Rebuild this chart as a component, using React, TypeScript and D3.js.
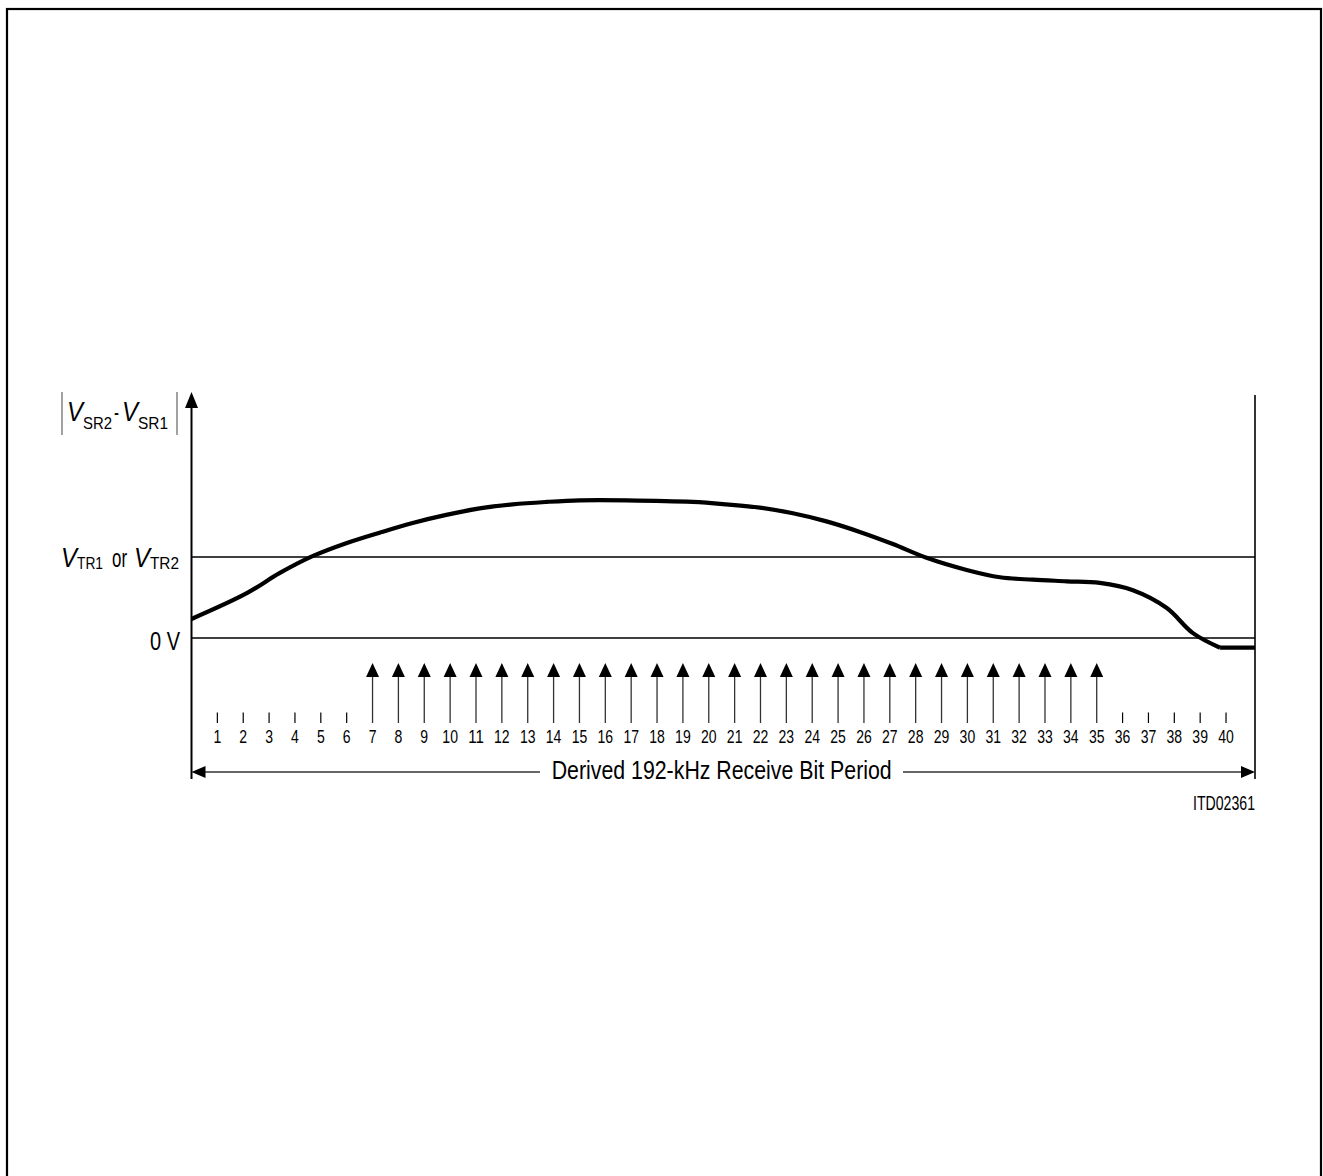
import React from "react";
import * as d3 from "d3";

// ---- data ----
const bitTicks = [1, 2, 3, 4, 5, 6, 7, 8, 9, 10, 11, 12, 13, 14, 15, 16, 17, 18, 19, 20,
  21, 22, 23, 24, 25, 26, 27, 28, 29, 30, 31, 32, 33, 34, 35, 36, 37, 38, 39, 40];
const sampleBits = [7, 8, 9, 10, 11, 12, 13, 14, 15, 16, 17, 18, 19, 20, 21, 22, 23, 24, 25,
  26, 27, 28, 29, 30, 31, 32, 33, 34, 35];
const curveX = [0, 2.12, 3.4, 4.68, 5.98, 7.27, 8.55, 9.85, 11.14, 12.42, 13.72, 15.01, 16.82,
  19.38, 20.68, 21.97, 23.25, 24.55, 25.84, 27.12, 28.42, 29.97, 31.26, 32.53, 33.84, 35.12,
  36.4, 37.71, 38.72, 39.77];
const curveY = [0.235, 0.55, 0.8, 1.01, 1.17, 1.3, 1.42, 1.52, 1.6, 1.65, 1.68, 1.7, 1.7,
  1.68, 1.65, 1.61, 1.54, 1.44, 1.31, 1.16, 0.99, 0.84, 0.75, 0.72, 0.7, 0.68,
  0.59, 0.37, 0.06, -0.12];
// flat tail after the drop
const tailX = [39.77, 41.12];
const tailY = [-0.12, -0.12];
const levelValues = [0, 1]; // 0 V, VTR
const xDomain = [0, 41.12];
const yDomain = [0, 3];

const FONT = "'Liberation Sans', Arial, Helvetica, sans-serif";

export default function App() {
  const x = d3.scaleLinear().domain(xDomain).range([191.5, 1255]);
  const y = d3.scaleLinear().domain(yDomain).range([638, 395]);
  const curveLine = d3
    .line<number>()
    .x((_, i) => x(curveX[i]))
    .y((d) => y(d))
    .curve(d3.curveCatmullRom.alpha(0.5));
  const tailLine = d3
    .line<number>()
    .x((_, i) => x(tailX[i]))
    .y((d) => y(d));

  const x0 = x(xDomain[0]);
  const x1 = x(xDomain[1]);
  const arrowY = 772;

  const T = (p: {
    x: number; y: number; size: number; len?: number; anchor?: string; italic?: boolean;
    children: React.ReactNode;
  }) => (
    <text
      x={p.x}
      y={p.y}
      fontSize={p.size}
      fontFamily={FONT}
      fontStyle={p.italic ? "italic" : "normal"}
      textAnchor={p.anchor || "start"}
      textLength={p.len}
      lengthAdjust={p.len ? "spacingAndGlyphs" : undefined}
      fill="#000"
    >
      {p.children}
    </text>
  );

  return (
    <svg
      width={1323}
      height={1176}
      style={{ position: "absolute", left: 0, top: 0, background: "#fff" }}
    >
      <rect x={7} y={9} width={1314} height={1300} fill="none" stroke="#000" strokeWidth={2.2} />

      {/* threshold lines */}
      {levelValues.map((v) => (
        <line key={v} x1={x0} x2={x1} y1={y(v)} y2={y(v)} stroke="#000" strokeWidth={1.3} />
      ))}

      {/* y axis */}
      <line x1={x0} x2={x0} y1={y(yDomain[1]) + 10} y2={779} stroke="#000" strokeWidth={2} />
      <path
        d={`M${x0},${y(yDomain[1]) - 3} L${x0 - 6.5},${y(yDomain[1]) + 13} L${x0 + 6.5},${y(yDomain[1]) + 13} Z`}
        fill="#000"
      />
      {/* right boundary */}
      <line x1={x1} x2={x1} y1={y(yDomain[1])} y2={779} stroke="#000" strokeWidth={1.6} />

      {/* curve */}
      <path d={curveLine(curveY) || ""} fill="none" stroke="#000" strokeWidth={4.2} strokeLinejoin="round" />
      <path d={tailLine(tailY) || ""} fill="none" stroke="#000" strokeWidth={4.2} />

      {/* ticks and sample arrows */}
      {bitTicks.map((b) => {
        const isSample = sampleBits.includes(b);
        const cx = x(b);
        return (
          <g key={b}>
            {isSample ? (
              <g>
                <line x1={cx} x2={cx} y1={676} y2={723} stroke="#333" strokeWidth={1.3} />
                <path d={`M${cx},663 L${cx - 6.5},677 L${cx + 6.5},677 Z`} fill="#000" />
              </g>
            ) : (
              <line x1={cx} x2={cx} y1={712.5} y2={723} stroke="#000" strokeWidth={1.2} />
            )}
            <T x={cx} y={742.5} size={18.5} anchor="middle" len={String(b).length * 7.8}>
              {b}
            </T>
          </g>
        );
      })}

      {/* bottom double arrow */}
      <line x1={x0 + 10} x2={x1 - 10} y1={arrowY} y2={arrowY} stroke="#333" strokeWidth={1.3} />
      <path d={`M${x0},${arrowY} L${x0 + 14},${arrowY - 6} L${x0 + 14},${arrowY + 6} Z`} fill="#000" />
      <path d={`M${x1},${arrowY} L${x1 - 14},${arrowY - 6} L${x1 - 14},${arrowY + 6} Z`} fill="#000" />
      <rect x={540} y={755} width={363} height={30} fill="#fff" />
      <T x={721.7} y={778.5} size={25} anchor="middle" len={340}>
        Derived 192-kHz Receive Bit Period
      </T>

      <T x={1255} y={809.5} size={19.5} anchor="end" len={62}>ITD02361</T>

      {/* y label |V_SR2 - V_SR1| */}
      <line x1={62} x2={62} y1={392} y2={435} stroke="#555" strokeWidth={1.1} />
      <line x1={177} x2={177} y1={392} y2={435} stroke="#555" strokeWidth={1.1} />
      <T x={67} y={420.5} size={28} italic len={16}>V</T>
      <T x={83} y={428.5} size={16.5} len={29}>SR2</T>
      <T x={114} y={420} size={24} len={5}>-</T>
      <T x={122} y={420.5} size={28} italic len={16}>V</T>
      <T x={138} y={428.5} size={16.5} len={30}>SR1</T>

      {/* VTR label */}
      <T x={61} y={567} size={28} italic len={16}>V</T>
      <T x={77} y={568.5} size={17} len={26}>TR1</T>
      <T x={112} y={567} size={26} len={15}>or</T>
      <T x={134} y={567} size={28} italic len={16}>V</T>
      <T x={150} y={568.5} size={17} len={29}>TR2</T>

      <T x={180} y={650} size={25.5} anchor="end" len={30}>0 V</T>
    </svg>
  );
}
